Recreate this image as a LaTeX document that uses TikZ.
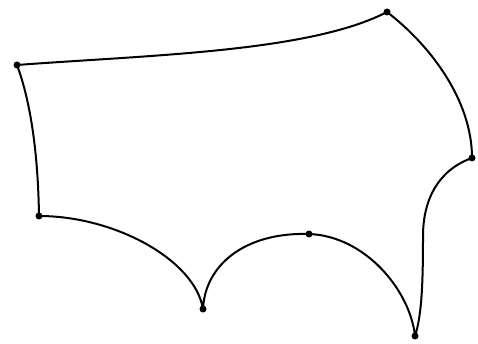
\documentclass[tikz,border=0pt]{standalone}
\begin{document}
\begin{tikzpicture}[x=1pt,y=-1pt,
  edge/.style={line width=2pt,line join=round},
  dot/.style={circle,fill=black,inner sep=0pt,minimum size=7pt}]
\useasboundingbox (0,0) rectangle (478,344);
\coordinate (A) at (17,65);
\coordinate (B) at (387,12);
\coordinate (C) at (472,158);
\coordinate (D) at (415,336);
\coordinate (E) at (309,234);
\coordinate (F) at (203,309);
\coordinate (G) at (39,216);
\coordinate (M) at (423,236);
\draw[edge] (A) .. controls (150,55) and (310,52) .. (B)
  .. controls (430,45) and (472,100) .. (C)
  .. controls (438,170) and (423,200) .. (M)
  .. controls (423,280) and (422,315) .. (D)
  .. controls (410,290) and (365,236) .. (E)
  .. controls (245,232) and (205,265) .. (F)
  .. controls (195,260) and (115,216) .. (G)
  .. controls (38,150) and (30,100) .. (A);
\foreach \p in {A,B,C,D,E,F,G} \node[dot] (n\p) at (\p) {};
\end{tikzpicture}
\end{document}
